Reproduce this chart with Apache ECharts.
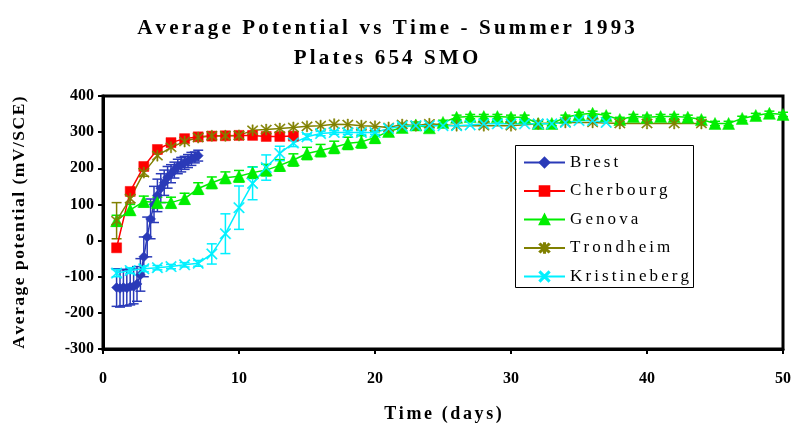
<!DOCTYPE html>
<html>
<head>
<meta charset="utf-8">
<script src="https://cdn.jsdelivr.net/npm/echarts@6/dist/echarts.min.js"></script>
<style>
  html, body { margin: 0; padding: 0; background: #fff; }
  #chart { width: 792px; height: 423px; }
</style>
</head>
<body>
<div id="chart"></div>
<script>
// Average potential (mV/SCE) of 654 SMO plates over time, summer 1993.
const seriesNames = ['Brest', 'Cherbourg', 'Genova', 'Trondheim', 'Kristineberg'];

// Brest: readings four times a day during the first week
const brestDays = [1, 1.25, 1.5, 1.75, 2, 2.25, 2.5, 2.75, 3, 3.25, 3.5, 3.75, 4,
                   4.25, 4.5, 4.75, 5, 5.25, 5.5, 5.75, 6, 6.25, 6.5, 6.75, 7];
const brestValues = [-130, -132, -130, -131, -128, -127, -120, -95, -45, 10, 60, 100, 125,
                     145, 160, 175, 185, 195, 205, 210, 215, 220, 226, 230, 235];
const brestErrors = [52, 52, 50, 50, 50, 48, 48, 45, 55, 55, 55, 50, 45,
                     40, 35, 30, 25, 22, 20, 20, 18, 18, 18, 15, 15];

const cherbourgDays = [1, 2, 3, 4, 5, 6, 7, 8, 9, 10, 11, 12, 13, 14];
const cherbourgValues = [-20, 136, 205, 252, 271, 282, 287, 289, 290, 291, 291, 288, 288, 289];

const genovaDays = [1, 2, 3, 4, 5, 6, 7, 8, 9, 10, 11, 12, 13, 14, 15, 16, 17, 18, 19, 20,
                    21, 22, 23, 24, 25, 26, 27, 28, 29, 30, 31, 32, 33, 34, 35, 36, 37, 38, 39, 40,
                    41, 42, 43, 44, 45, 46, 47, 48, 49, 50];
const genovaValues = [55, 85, 108, 105, 105, 116, 144, 160, 174, 178, 188, 195, 208, 223, 241, 249, 258, 269, 273, 285,
                      302, 313, 320, 312, 327, 341, 343, 343, 343, 341, 341, 324, 324, 341, 349, 352, 346, 335, 343, 341,
                      343, 343, 341, 335, 324, 324, 338, 346, 352, 349];
const genovaErrors = [15, 15, 15, 15, 15, 15, 16, 16, 16, 16, 16, 16, 16, 17, 17, 17, 17, 17, 17, 16,
                      12, 10, 8, 8, 6, 6, 6, 6, 6, 6, 6, 6, 6, 6, 6, 6, 6, 6, 6, 6,
                      6, 6, 6, 6, 6, 6, 6, 6, 6, 6];

const trondheimDays = [1, 2, 3, 4, 5, 6, 7, 8, 9, 10, 11, 12, 13, 14, 15, 16, 17, 18, 19, 20,
                       21, 22, 23, 24, 26, 28, 30, 32, 34, 36, 38, 40, 42, 44];
const trondheimValues = [55, 116, 188, 235, 258, 274, 285, 290, 290, 291, 305, 307, 310, 313, 316, 318, 322, 321, 318, 316,
                         313, 321, 318, 323, 318, 318, 318, 323, 327, 327, 324, 324, 324, 324];
const trondheimErrors = [50, 12, 10, 0, 0, 0, 0, 0, 0, 0, 0, 0, 0, 0, 0, 0, 0, 0, 0, 0,
                         0, 0, 0, 0, 0, 0, 0, 0, 0, 0, 0, 0, 0, 0];

const kristinebergDays = [1, 2, 3, 4, 5, 6, 7, 8, 9, 10, 11, 12, 13, 14, 15, 16, 17, 18, 19, 20,
                          21, 22, 23, 24, 25, 26, 27, 28, 29, 30, 31, 32, 33, 34, 35, 36, 37];
const kristinebergValues = [-90, -83, -78, -75, -72, -67, -63, -37, 19, 91, 158, 202, 241, 270, 287, 296, 299, 299, 299, 299,
                            310, 316, 318, 318, 318, 318, 320, 323, 323, 323, 323, 323, 323, 327, 332, 332, 327];
const kristinebergErrors = [10, 8, 8, 6, 6, 6, 8, 28, 55, 60, 45, 35, 20, 10, 8, 6, 5, 5, 5, 5,
                           5, 5, 5, 5, 0, 0, 0, 0, 0, 0, 0, 0, 0, 0, 0, 0, 0];

const xTicks = [0, 10, 20, 30, 40, 50];
const yTicks = [-300, -200, -100, 0, 100, 200, 300, 400];

const colors = {
  Brest: '#2a3ab8',
  Cherbourg: '#ff0000',
  Genova: '#00ee00',
  Trondheim: '#808000',
  Kristineberg: '#00f0ff'
};

// Wide tracking for the serif captions, chosen by font size (px -> extra px per glyph).
const trackingBySize = { '21': 3.15, '18': 2.6, '17.5': 1.5, '17': 3.1 };
(function () {
  const proto = CanvasRenderingContext2D.prototype;
  const baseFillText = proto.fillText;
  proto.fillText = function (text, x, y, maxWidth) {
    const m = /(\d+(?:\.\d+)?)px/.exec(this.font);
    const track = m ? trackingBySize[m[1]] : 0;
    if (!track || typeof text !== 'string' || text.length < 2) {
      return baseFillText.apply(this, arguments);
    }
    const chars = Array.from(text);
    const widths = chars.map(c => this.measureText(c).width);
    const total = widths.reduce((a, b) => a + b, 0) + track * (chars.length - 1);
    const align = this.textAlign;
    let cx = x;
    if (align === 'center') cx = x - total / 2;
    else if (align === 'right' || align === 'end') cx = x - total;
    this.textAlign = 'left';
    chars.forEach((c, i) => {
      baseFillText.call(this, c, cx, y);
      cx += widths[i] + track;
    });
    this.textAlign = align;
  };
})();

// marker shapes
const asteriskPath = 'path://M-1,-10L1,-10L1,10L-1,10Z' +
  'M-7.3,-8.7L8.7,7.3L7.3,8.7L-8.7,-7.3Z' +
  'M8.7,-7.3L-7.3,8.7L-8.7,7.3L7.3,-8.7Z';
const crossPath = 'path://M-7.3,-8.7L8.7,7.3L7.3,8.7L-8.7,-7.3Z' +
  'M8.7,-7.3L-7.3,8.7L-8.7,7.3L7.3,-8.7Z';

const serifFont = '"Liberation Serif", "Times New Roman", serif';

function pairs(days, values) {
  return days.map((d, i) => [d, values[i]]);
}
function ranges(days, values, errors) {
  const out = [];
  days.forEach((d, i) => {
    if (errors[i] > 0) out.push([d, values[i] - errors[i], values[i] + errors[i]]);
  });
  return out;
}

function errorBarSeries(name, days, values, errors) {
  const color = colors[name];
  return {
    type: 'custom',
    name: name + ' error',
    data: ranges(days, values, errors),
    z: 2,
    silent: true,
    renderItem: function (params, api) {
      const lo = api.coord([api.value(0), api.value(1)]);
      const hi = api.coord([api.value(0), api.value(2)]);
      const w = 5;
      const st = { stroke: color, lineWidth: 1.5 };
      return {
        type: 'group',
        children: [
          { type: 'line', shape: { x1: lo[0], y1: lo[1], x2: hi[0], y2: hi[1] }, style: st },
          { type: 'line', shape: { x1: lo[0] - w, y1: lo[1], x2: lo[0] + w, y2: lo[1] }, style: st },
          { type: 'line', shape: { x1: hi[0] - w, y1: hi[1], x2: hi[0] + w, y2: hi[1] }, style: st }
        ]
      };
    }
  };
}

function lineSeries(name, days, values, symbol, size) {
  return {
    type: 'line',
    name: name,
    data: pairs(days, values),
    symbol: symbol,
    symbolSize: size,
    showAllSymbol: true,
    z: 3,
    lineStyle: { color: colors[name], width: 1.5 },
    itemStyle: { color: colors[name], borderColor: colors[name], borderWidth: 0.5 },
    emphasis: { disabled: true },
    animation: false
  };
}

const chart = echarts.init(document.getElementById('chart'), null, { renderer: 'canvas' });

chart.setOption({
  animation: false,
  backgroundColor: '#ffffff',
  title: {
    text: 'Average Potential vs Time - Summer 1993\nPlates 654 SMO',
    left: 381,
    top: 9,
    textAlign: 'center',
    textStyle: {
      fontFamily: serifFont,
      fontWeight: 'bold',
      fontSize: 21,
      lineHeight: 30,
      color: '#000'
    }
  },
  // legend frame
  graphic: [{
    type: 'rect',
    left: 515,
    top: 145,
    z: 3.9,
    shape: { width: 178, height: 142 },
    style: { fill: '#fff', stroke: '#000', lineWidth: 1 }
  }],
  legend: {
    data: seriesNames,
    orient: 'vertical',
    left: 515,
    top: 145,
    z: 4,
    itemWidth: 41,
    itemHeight: 12,
    itemGap: 11.5,
    padding: [9, 12, 4, 8],
    borderWidth: 0,
    textStyle: { fontFamily: serifFont, fontSize: 17, color: '#000' }
  },
  grid: {
    left: 103,
    right: 9,
    top: 96,
    bottom: 74,
    containLabel: false,
    outerBoundsMode: 'none',
    show: true,
    borderColor: '#000',
    borderWidth: 3,
    backgroundColor: '#fff'
  },
  xAxis: {
    type: 'value',
    min: xTicks[0],
    max: xTicks[xTicks.length - 1],
    interval: 10,
    name: 'Time (days)',
    nameLocation: 'middle',
    nameGap: 56,
    nameTextStyle: { fontFamily: serifFont, fontWeight: 'bold', fontSize: 18, color: '#000' },
    axisLine: { onZero: false, lineStyle: { color: '#000', width: 3 } },
    axisTick: { show: true, inside: false, length: 5, lineStyle: { color: '#000', width: 2 } },
    axisLabel: { fontFamily: serifFont, fontWeight: 'bold', fontSize: 16, color: '#000', margin: 22 },
    splitLine: { show: false }
  },
  yAxis: {
    type: 'value',
    min: yTicks[0],
    max: yTicks[yTicks.length - 1],
    interval: 100,
    name: 'Average potential (mV/SCE)',
    nameLocation: 'middle',
    nameGap: 75,
    nameRotate: 90,
    nameTextStyle: { fontFamily: serifFont, fontWeight: 'bold', fontSize: 17.5, color: '#000' },
    axisLine: { onZero: false, lineStyle: { color: '#000', width: 3 } },
    axisTick: { show: true, inside: false, length: 5, lineStyle: { color: '#000', width: 2 } },
    axisLabel: { fontFamily: serifFont, fontWeight: 'bold', fontSize: 16, color: '#000', margin: 9 },
    splitLine: { show: false }
  },
  series: [
    errorBarSeries('Brest', brestDays, brestValues, brestErrors),
    lineSeries('Brest', brestDays, brestValues, 'diamond', 10),
    lineSeries('Cherbourg', cherbourgDays, cherbourgValues, 'rect', 10),
    errorBarSeries('Genova', genovaDays, genovaValues, genovaErrors),
    lineSeries('Genova', genovaDays, genovaValues, 'triangle', 12),
    errorBarSeries('Trondheim', trondheimDays, trondheimValues, trondheimErrors),
    lineSeries('Trondheim', trondheimDays, trondheimValues, asteriskPath, 11),
    errorBarSeries('Kristineberg', kristinebergDays, kristinebergValues, kristinebergErrors),
    lineSeries('Kristineberg', kristinebergDays, kristinebergValues, crossPath, 11)
  ]
});
</script>
</body>
</html>
